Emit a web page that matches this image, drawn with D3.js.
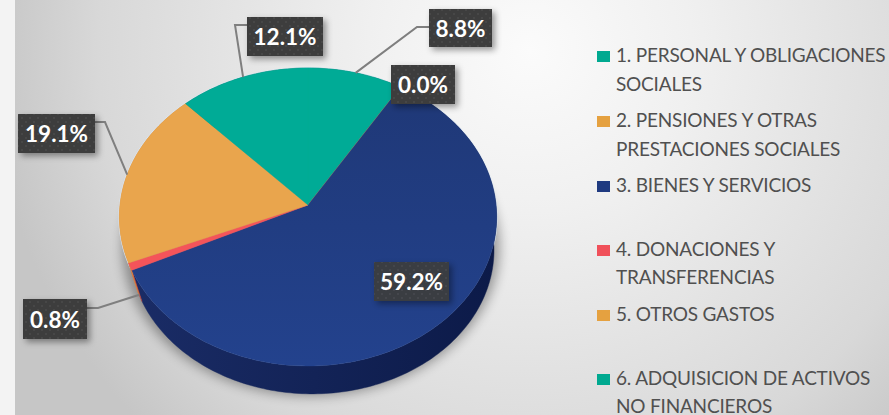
<!DOCTYPE html>
<html>
<head>
<meta charset="utf-8">
<script src="https://cdn.jsdelivr.net/npm/d3@7"></script>
<style>
html, body { margin: 0; padding: 0; background: #f3f3f3; overflow: hidden; }
text { font-family: Lato, "Open Sans", sans-serif; }
</style>
</head>
<body>
<div id="chart"></div>
<script>
var categories = [
    ["1. PERSONAL Y OBLIGACIONES", "SOCIALES"],
    ["2. PENSIONES Y OTRAS", "PRESTACIONES SOCIALES"],
    ["3. BIENES Y SERVICIOS"],
    ["4. DONACIONES Y", "TRANSFERENCIAS"],
    ["5. OTROS GASTOS"],
    ["6. ADQUISICION DE ACTIVOS", "NO FINANCIEROS"]
];
var shares = [8.8, 0.0, 59.2, 0.8, 19.1, 12.1];
var topColors = ["#00ab96", "#e9a54d", "url(#blueTop)", "#f4545a", "#e9a54d", "#00ab96"];
var sideColors = ["#007a6b", "#b57a30", "url(#blueSide)", "#c9453a", "#d98f3e", "#007a6b"];
var swatchColors = ["#00a990", "#e5a140", "#1f3a80", "#f0505a", "#e5a140", "#00a990"];

// label boxes: x, y, w, h, the elbow of the leader line and how far down the wall it lands
var labelBoxes = [
    { x: 429, y: 9, w: 63, h: 38, elbow: [417, 27], from: [429, 27], wall: 0 },
    { x: 391, y: 65, w: 64, h: 39 },
    { x: 374, y: 262, w: 75, h: 39, opacity: 0.92 },
    { x: 23, y: 299, w: 64, h: 40, elbow: [98, 308], from: [87, 308], wall: 0.9 },
    { x: 18, y: 114, w: 77, h: 39, elbow: [105, 122], from: [95, 122], wall: 0 },
    { x: 247, y: 17, w: 76, h: 39, elbow: [235, 25], from: [247, 25], wall: 0 }
];
var legendBaselines = [[62, 91], [127, 156], [192], [256, 284], [321], [385, 413]];

var width = 889, height = 415;

var svg = d3.select("#chart").append("svg")
    .attr("width", width)
    .attr("height", height)
    .style("display", "block");

var defs = svg.append("defs");

var bg = defs.append("radialGradient").attr("id", "bg")
    .attr("gradientUnits", "userSpaceOnUse")
    .attr("cx", 530).attr("cy", 50).attr("r", 540);
bg.append("stop").attr("offset", "0").attr("stop-color", "#fbfbfb");
bg.append("stop").attr("offset", "0.3").attr("stop-color", "#f0f0f0");
bg.append("stop").attr("offset", "0.8").attr("stop-color", "#d8d8d8");
bg.append("stop").attr("offset", "1").attr("stop-color", "#c6c6c6");

var blueTop = defs.append("linearGradient").attr("id", "blueTop")
    .attr("x1", 0).attr("y1", 0).attr("x2", 0).attr("y2", 1);
blueTop.append("stop").attr("offset", "0").attr("stop-color", "#1f3877");
blueTop.append("stop").attr("offset", "1").attr("stop-color", "#23428d");

var blueSide = defs.append("linearGradient").attr("id", "blueSide")
    .attr("x1", 0).attr("y1", 0).attr("x2", 1).attr("y2", 0);
blueSide.append("stop").attr("offset", "0").attr("stop-color", "#1a2c66");
blueSide.append("stop").attr("offset", "1").attr("stop-color", "#0c1a48");

var dots = defs.append("pattern").attr("id", "dots")
    .attr("patternUnits", "userSpaceOnUse")
    .attr("width", 8).attr("height", 8);
dots.append("rect").attr("width", 8).attr("height", 8).attr("fill", "#3d3d3d");
dots.append("circle").attr("cx", 2).attr("cy", 2).attr("r", 0.8).attr("fill", "#525252");
dots.append("circle").attr("cx", 6).attr("cy", 6).attr("r", 0.8).attr("fill", "#525252");

var pieShadow = defs.append("filter").attr("id", "pieShadow")
    .attr("x", "-20%").attr("y", "-20%").attr("width", "140%").attr("height", "140%");
pieShadow.append("feGaussianBlur").attr("stdDeviation", 6);

var boxShadow = defs.append("filter").attr("id", "boxShadow")
    .attr("x", "-30%").attr("y", "-30%").attr("width", "160%").attr("height", "160%");
boxShadow.append("feDropShadow").attr("dx", 3).attr("dy", 3).attr("stdDeviation", 3)
    .attr("flood-color", "#000").attr("flood-opacity", 0.4);

svg.append("rect").attr("x", 15).attr("y", 0)
    .attr("width", width - 15).attr("height", height).attr("fill", "url(#bg)");

// tilted pie: unit circle through a small perspective so the apex sits off the ellipse centre
var apexX = 308, apexY = 205, radiusX = 188, radiusY = 148, tilt = 0.0805;

function project(angle) {
    var w = 1 + tilt * Math.cos(angle);
    return [apexX + radiusX * Math.sin(angle) / w, apexY - radiusY * Math.cos(angle) / w];
}

// bottom rim is a slightly smaller copy of the top rim, pushed down and right
function lowerRim(p) {
    return [312 + (p[0] - 308) * 0.965, 250 + (p[1] - 217) * 0.966];
}

function rimPoints(a0, a1) {
    var n = Math.max(2, Math.ceil(Math.abs(a1 - a0) / 0.02));
    return d3.range(n + 1).map(function (i) {
        return project(a0 + (a1 - a0) * i / n);
    });
}

var line = d3.line();

var pie = d3.pie().sort(null).value(function (d) { return d; })
    .startAngle(0)
    .endAngle(2 * Math.PI);
var slices = pie(shares);

// soft shadow under the pie
svg.append("path")
    .attr("d", line(rimPoints(0, 2 * Math.PI)) + "Z")
    .attr("transform", "translate(3,30)")
    .attr("fill", "#000")
    .attr("opacity", 0.35)
    .attr("filter", "url(#pieShadow)");

// pale rim behind the top face
svg.append("path")
    .attr("d", line(rimPoints(0, 2 * Math.PI)) + "Z")
    .attr("fill", "none")
    .attr("stroke", "#dbe6f2")
    .attr("stroke-width", 2);

// side wall, the top face paints over everything but the front part
svg.append("g").selectAll("path")
    .data(slices)
    .enter()
    .append("path")
    .attr("d", function (d) {
        var rim = rimPoints(d.startAngle, d.endAngle);
        var lower = rim.map(lowerRim).reverse();
        return line(rim.concat(lower)) + "Z";
    })
    .attr("fill", function (d, i) { return sideColors[i]; })
    .attr("stroke", function (d, i) { return sideColors[i]; })
    .attr("stroke-width", 0.4);

svg.append("g").selectAll("path")
    .data(slices)
    .enter()
    .append("path")
    .attr("d", function (d) {
        return line([[apexX, apexY]].concat(rimPoints(d.startAngle, d.endAngle))) + "Z";
    })
    .attr("fill", function (d, i) { return topColors[i]; })
    .attr("stroke", function (d, i) { return topColors[i]; })
    .attr("stroke-width", 0.4);

// leader lines
svg.append("g").selectAll("path")
    .data(slices.filter(function (d, i) { return labelBoxes[i].elbow; }))
    .enter()
    .append("path")
    .attr("d", function (d) {
        var box = labelBoxes[d.index];
        var rim = project((d.startAngle + d.endAngle) / 2);
        var low = lowerRim(rim);
        var end = [rim[0] + (low[0] - rim[0]) * box.wall, rim[1] + (low[1] - rim[1]) * box.wall];
        return line([box.from, box.elbow, end]);
    })
    .attr("fill", "none")
    .attr("stroke", "#7f7f7f")
    .attr("stroke-width", 2);

// value labels
var labels = svg.append("g").selectAll("g")
    .data(shares)
    .enter()
    .append("g");

labels.append("rect")
    .attr("x", function (d, i) { return labelBoxes[i].x; })
    .attr("y", function (d, i) { return labelBoxes[i].y; })
    .attr("width", function (d, i) { return labelBoxes[i].w; })
    .attr("height", function (d, i) { return labelBoxes[i].h; })
    .attr("opacity", function (d, i) { return labelBoxes[i].opacity || 1; })
    .attr("fill", "url(#dots)")
    .attr("filter", "url(#boxShadow)");

labels.append("text")
    .attr("x", function (d, i) { return labelBoxes[i].x + labelBoxes[i].w / 2; })
    .attr("y", function (d, i) { return labelBoxes[i].y + labelBoxes[i].h / 2 + 8.5; })
    .attr("text-anchor", "middle")
    .attr("fill", "#fff")
    .attr("font-size", 22.5)
    .attr("font-weight", 700)
    .text(function (d) { return d.toFixed(1) + "%"; });

// legend
var legend = svg.append("g").selectAll("g")
    .data(categories)
    .enter()
    .append("g");

legend.append("rect")
    .attr("x", 597)
    .attr("y", function (d, i) { return legendBaselines[i][0] - 11; })
    .attr("width", 13)
    .attr("height", 11)
    .attr("fill", function (d, i) { return swatchColors[i]; });

legend.each(function (lines, i) {
    d3.select(this).selectAll("text")
        .data(lines)
        .enter()
        .append("text")
        .attr("x", 616)
        .attr("y", function (d, j) { return legendBaselines[i][j]; })
        .attr("fill", "#505050")
        .attr("font-size", 19)
        .attr("letter-spacing", -0.2)
        .text(function (d) { return d; });
});
</script>
</body>
</html>
